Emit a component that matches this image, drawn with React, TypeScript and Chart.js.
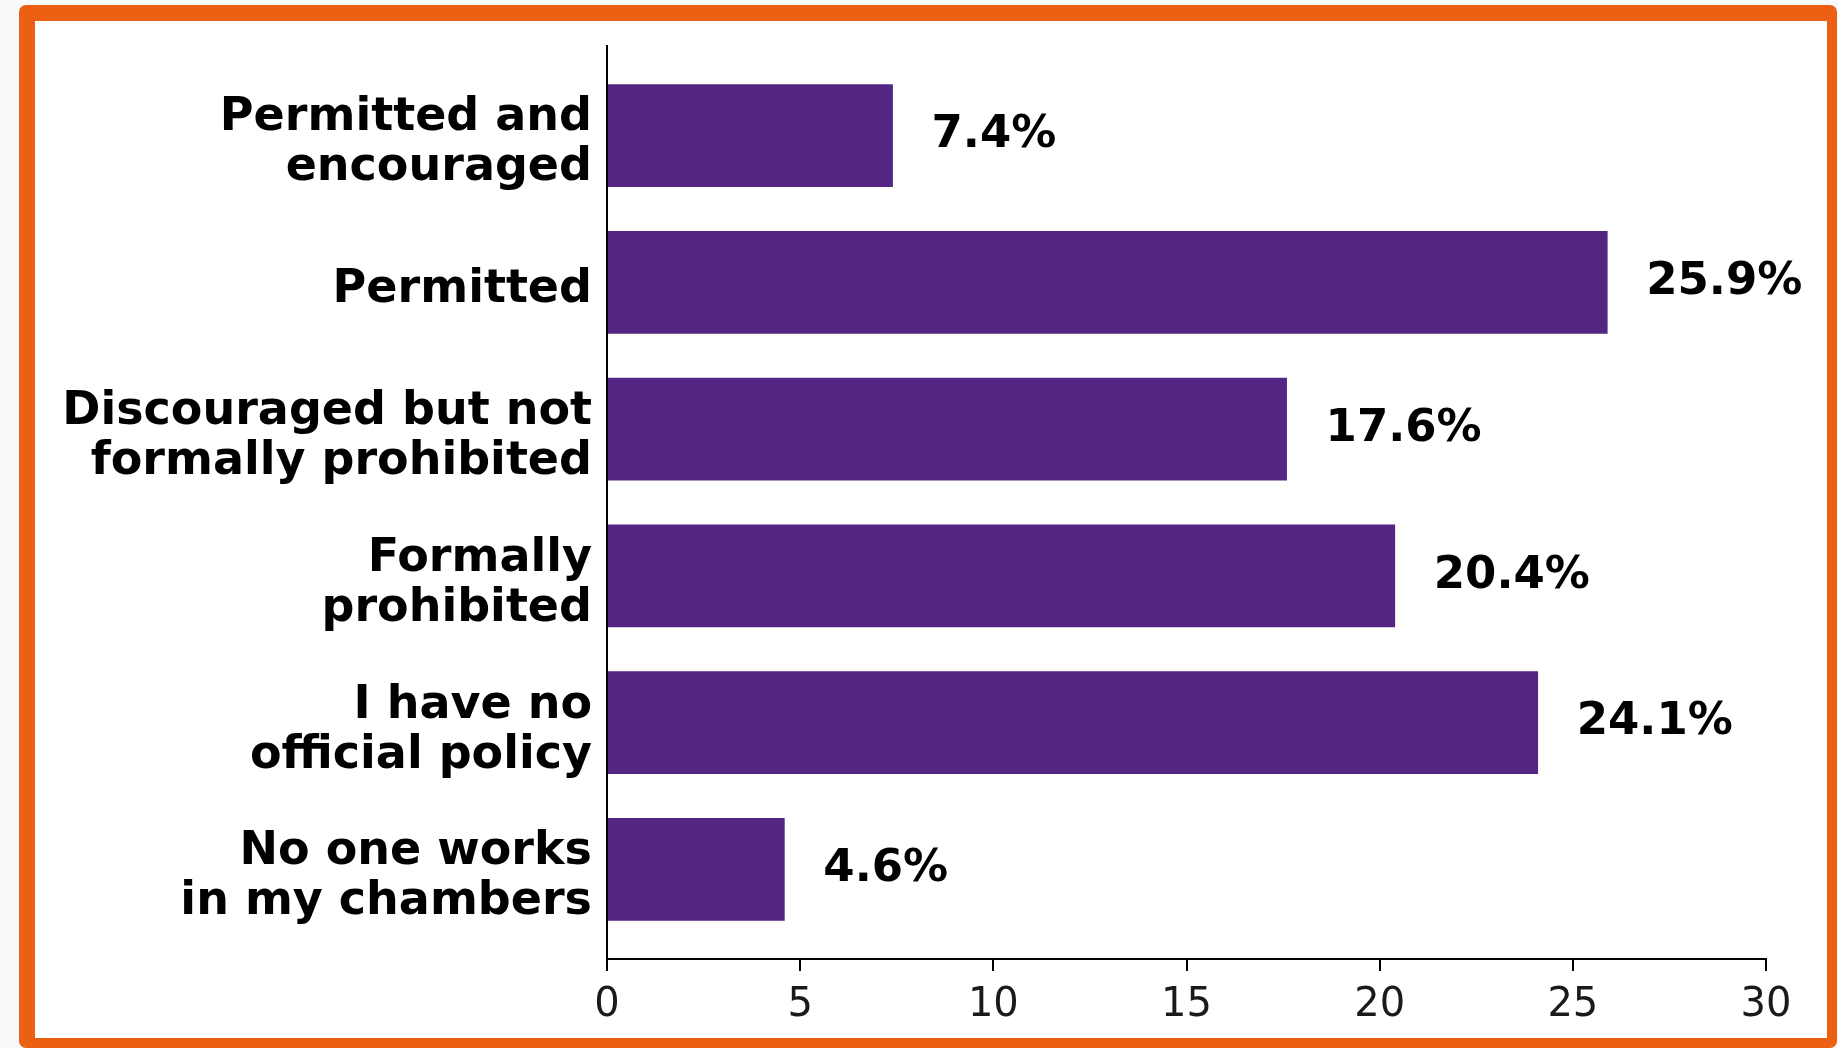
import React, { useEffect, useRef } from 'react';
import { Chart, registerables } from 'chart.js';

Chart.register(...registerables);

const categories: (string | string[])[] = [
  ['Permitted and', 'encouraged'],
  'Permitted',
  ['Discouraged but not', 'formally prohibited'],
  ['Formally', 'prohibited'],
  ['I have no', 'official policy'],
  ['No one works', 'in my chambers'],
];
const values: number[] = [7.4, 25.9, 17.6, 20.4, 24.1, 4.6];
const xTicks: number[] = [0, 5, 10, 15, 20, 25, 30];

const FONT = '"DejaVu Sans", "Liberation Sans", sans-serif';
const BAR = '#522682';
const Y_MIN = -0.61;
const Y_MAX = 5.61;

const valueLabels = {
  id: 'valueLabels',
  afterDatasetsDraw(chart: any) {
    const { ctx } = chart;
    const meta = chart.getDatasetMeta(0);
    const xs = chart.scales.x;
    ctx.save();
    ctx.font = `bold 45px ${FONT}`;
    ctx.fillStyle = '#000';
    ctx.textAlign = 'left';
    ctx.textBaseline = 'middle';
    meta.data.forEach((bar: any, i: number) => {
      const v = values[i];
      ctx.fillText(`${v.toFixed(1)}%`, xs.getPixelForValue(v + 1), bar.y);
    });
    ctx.restore();
  },
};

export default function App() {
  const ref = useRef<HTMLCanvasElement | null>(null);

  useEffect(() => {
    if (!ref.current) return;
    const chart = new Chart(ref.current, {
      type: 'bar',
      data: {
        datasets: [
          {
            data: values.map((v, i) => ({ x: v, y: i })),
            backgroundColor: BAR,
            borderWidth: 0,
            barPercentage: 0.7,
            categoryPercentage: 1,
          },
        ],
      },
      options: {
        indexAxis: 'y',
        animation: false,
        responsive: true,
        maintainAspectRatio: false,
        layout: { padding: { top: 25, right: 61, bottom: 0, left: 0 } },
        plugins: { legend: { display: false }, tooltip: { enabled: false } },
        scales: {
          x: {
            type: 'linear',
            position: 'bottom',
            bounds: 'data',
            offset: false,
            min: 0,
            max: 30,
            afterBuildTicks: (s: any) => {
              s.ticks = xTicks.map((v) => ({ value: v }));
              s.min = 0;
              s.max = 30;
            },
            afterFit: (s: any) => {
              s.height = 79;
              s.paddingLeft = 0;
              s.paddingRight = 0;
            },
            grid: {
              drawOnChartArea: false,
              drawTicks: true,
              tickLength: 12,
              lineWidth: 2,
              color: '#000',
              offset: false,
            },
            border: { display: true, color: '#000', width: 2 },
            ticks: {
              font: { family: FONT, size: 40 },
              color: '#1a1a1a',
              padding: 11,
              maxRotation: 0,
              callback: (v: any) => String(v),
            },
          },
          y: {
            type: 'linear',
            position: 'left',
            reverse: true,
            bounds: 'data',
            offset: false,
            min: Y_MIN,
            max: Y_MAX,
            z: 1,
            afterBuildTicks: (s: any) => {
              s.ticks = categories.map((_, i) => ({ value: i }));
              s.min = Y_MIN;
              s.max = Y_MAX;
            },
            afterFit: (s: any) => {
              s.width = 572;
              s.paddingTop = 0;
              s.paddingBottom = 0;
            },
            grid: { display: false, drawTicks: false, offset: false },
            border: { display: true, color: '#000', width: 2 },
            ticks: {
              font: { family: FONT, size: 46, weight: 'bold', lineHeight: 1.087 },
              color: '#000',
              padding: 15,
              labelOffset: 8,
              autoSkip: false,
              callback: (v: any) => categories[Math.round(v)] ?? '',
            },
          },
        },
      },
      plugins: [valueLabels],
    } as any);
    return () => chart.destroy();
  }, []);

  return (
    <div style={{ position: 'fixed', inset: 0, background: '#f8f9fb' }}>
      <div
        style={{
          position: 'fixed',
          left: 19,
          top: 5,
          width: 1818,
          height: 1043,
          boxSizing: 'border-box',
          borderStyle: 'solid',
          borderColor: '#EC6014',
          borderWidth: '16px 10px 10px 16px',
          borderRadius: 7,
          background: '#fff',
        }}
      >
        <div style={{ position: 'absolute', left: 0, top: 0, width: 1792, height: 1017 }}>
          <canvas ref={ref} />
        </div>
      </div>
    </div>
  );
}
